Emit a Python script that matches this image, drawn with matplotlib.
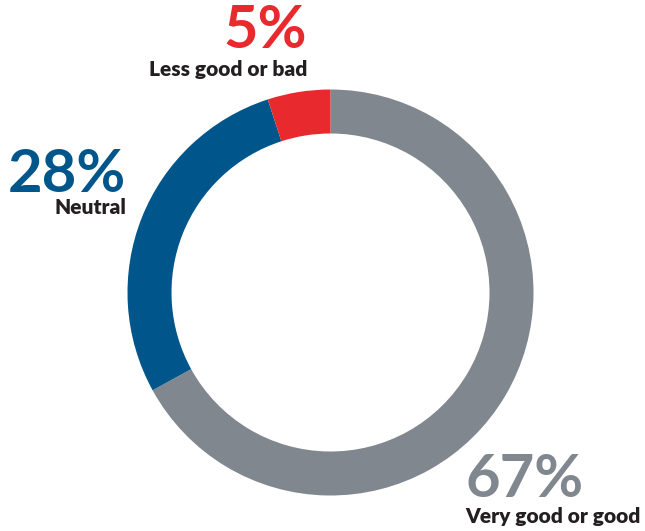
import matplotlib
matplotlib.use("Agg")
import matplotlib.pyplot as plt

plt.rcParams['font.family'] = ['Lato', 'DejaVu Sans']

# survey shares, drawn clockwise from 12 o'clock
labels = ['Very good or good', 'Neutral', 'Less good or bad']
shares = [67, 28, 5]
colors = ['#80878f', '#00568a', '#e8292d']

W, H = 645, 531
fig = plt.figure(figsize=(W / 100, H / 100), dpi=100)
ax = fig.add_axes([0, 0, 1, 1])

ax.pie(shares, colors=colors, startangle=90, counterclock=False,
       center=(330.5, H - 292.5), radius=203, frame=True,
       wedgeprops=dict(width=44, linewidth=0))
ax.set_xlim(0, W)
ax.set_ylim(0, H)
ax.set_aspect('equal')
ax.axis('off')

dark = '#231f20'

# x, baseline of the percent, baseline of the caption, alignment
spots = {
    'Less good or bad': (307, 48, 76, 'right'),
    'Neutral': (126, 192, 214, 'right'),
    'Very good or good': (465, 497, 523, 'left'),
}

for lab, val, col in zip(labels, shares, colors):
    x, yb, yl, ha = spots[lab]
    ax.text(x, H - yb, f'{val}%', color=col, fontsize=43, fontweight='bold',
            ha=ha, va='baseline')
    ax.text(x, H - yl, lab, color=dark, fontsize=15, fontweight='heavy',
            ha=ha, va='baseline')

fig.savefig('out.png', dpi=100)
